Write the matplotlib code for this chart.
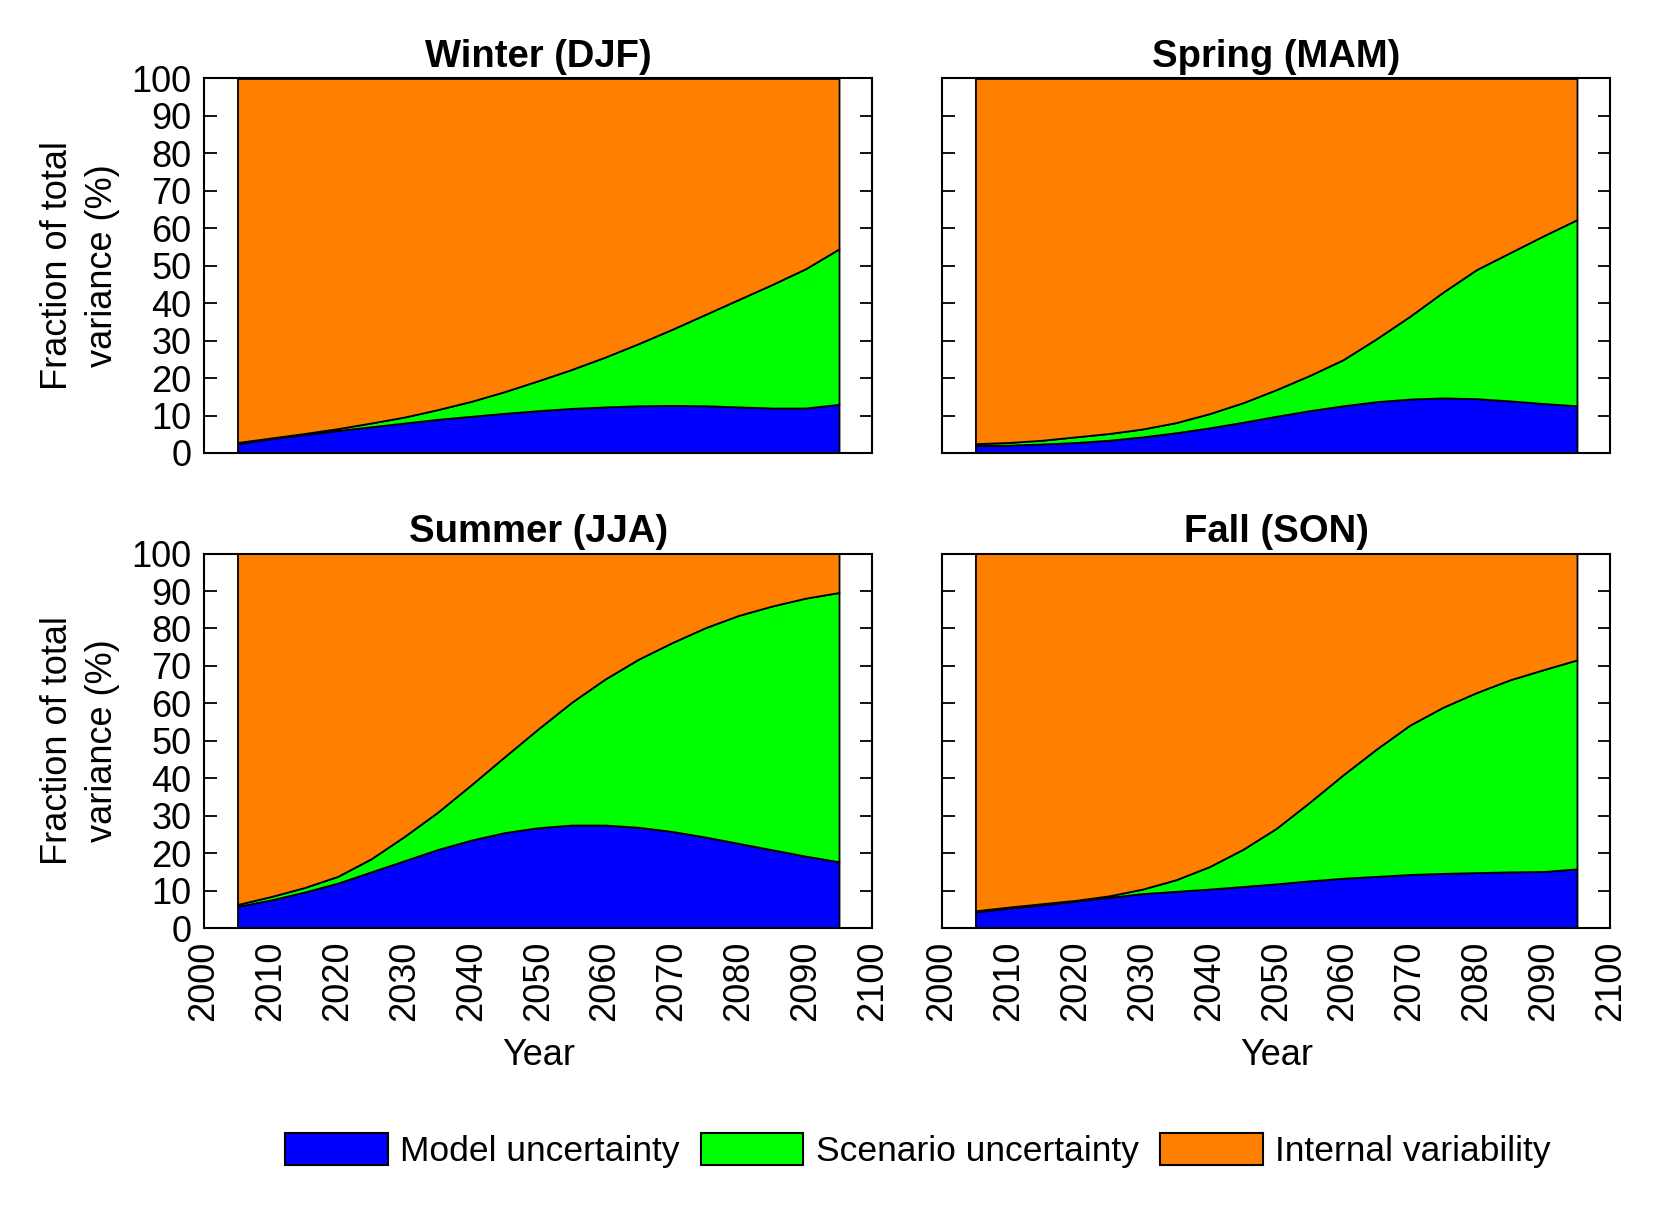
import matplotlib
matplotlib.use("Agg")
import matplotlib.pyplot as plt
from matplotlib.patches import Patch

plt.rcParams["font.family"] = ["Liberation Sans", "DejaVu Sans"]

# years sampled every 5 years, 2005-2095
years = [2005, 2010, 2015, 2020, 2025, 2030, 2035, 2040, 2045, 2050,
         2055, 2060, 2065, 2070, 2075, 2080, 2085, 2090, 2095]

seasons = ["Winter (DJF)", "Spring (MAM)", "Summer (JJA)", "Fall (SON)"]

# top of the blue band (model uncertainty), %
model_djf = [2.5, 3.8, 4.9, 6.0, 7.0, 8.0, 9.0, 9.8, 10.6, 11.3,
             11.9, 12.3, 12.6, 12.7, 12.6, 12.3, 12.0, 12.0, 13.0]
model_mam = [2.0, 2.1, 2.4, 2.8, 3.4, 4.3, 5.4, 6.7, 8.2, 9.8,
             11.3, 12.6, 13.7, 14.4, 14.7, 14.5, 13.9, 13.2, 12.6]
model_jja = [5.8, 7.5, 9.6, 12.0, 15.0, 18.0, 21.0, 23.5, 25.5, 26.8,
             27.5, 27.5, 26.9, 25.8, 24.3, 22.6, 20.9, 19.2, 17.7]
model_son = [4.3, 5.3, 6.2, 7.2, 8.2, 9.2, 9.8, 10.4, 11.1, 11.8,
             12.6, 13.3, 13.8, 14.3, 14.6, 14.8, 15.0, 15.1, 15.8]

# top of the green band (model + scenario uncertainty), %
scen_djf = [2.8, 4.0, 5.2, 6.5, 8.0, 9.6, 11.6, 13.8, 16.4, 19.3,
            22.3, 25.6, 29.2, 33.0, 37.0, 41.0, 45.0, 49.2, 54.5]
scen_mam = [2.5, 2.8, 3.4, 4.3, 5.2, 6.4, 8.1, 10.5, 13.4, 16.9,
            20.7, 24.9, 30.5, 36.5, 43.0, 49.0, 53.5, 58.0, 62.3]
scen_jja = [6.3, 8.4, 10.8, 13.8, 18.5, 24.5, 31.0, 38.3, 45.8, 53.2,
            60.3, 66.5, 71.8, 76.2, 80.2, 83.5, 86.0, 88.1, 89.6]
scen_son = [4.6, 5.6, 6.5, 7.4, 8.6, 10.4, 12.9, 16.4, 21.0, 26.6,
            33.6, 40.9, 47.8, 54.2, 59.0, 62.9, 66.3, 69.0, 71.6]

model_tops = [model_djf, model_mam, model_jja, model_son]
scen_tops = [scen_djf, scen_mam, scen_jja, scen_son]

labels = ["Model uncertainty", "Scenario uncertainty", "Internal variability"]
colors = ["#0000ff", "#00ff00", "#ff8000"]

fig, axes = plt.subplots(2, 2, figsize=(16.81, 12.15), dpi=100)
axes = axes.ravel()

lefts = [0.1214, 0.5604, 0.1214, 0.5604]
bottoms = [0.6272, 0.6272, 0.2362, 0.2362]

for i, ax in enumerate(axes):
    ax.set_position([lefts[i], bottoms[i], 0.3976, 0.3082])
    m = model_tops[i]
    s = scen_tops[i]
    ax.fill_between(years, 0, m, facecolor=colors[0], edgecolor="black", linewidth=1.3)
    ax.fill_between(years, m, s, facecolor=colors[1], edgecolor="black", linewidth=1.3)
    ax.fill_between(years, s, 100, facecolor=colors[2], edgecolor="black", linewidth=1.3)

    ax.set_xlim(2000, 2100)
    ax.set_ylim(0, 100)
    ax.set_xticks(range(2000, 2101, 10))
    ax.set_yticks(range(0, 101, 10))
    ax.tick_params(axis="y", direction="in", length=9, width=1.3, right=True,
                   labelsize=26, pad=9)
    ax.tick_params(axis="x", length=0, labelsize=26, pad=9, labelrotation=90)
    for sp in ax.spines.values():
        sp.set_linewidth(1.5)
    ax.set_title(seasons[i], fontsize=27.5, fontweight="bold", pad=8)

    if i % 2 == 0:
        ax.set_ylabel("Fraction of total\nvariance (%)", fontsize=26,
                      linespacing=1.4, labelpad=8)
    else:
        ax.tick_params(axis="y", labelleft=False)
    if i < 2:
        ax.tick_params(axis="x", labelbottom=False)
    else:
        ax.set_xlabel("Year", fontsize=26, labelpad=12)

handles = [Patch(facecolor=c, edgecolor="black", linewidth=1.5) for c in colors]
fig.legend(handles, labels, loc="center", bbox_to_anchor=(0.546, 0.053), ncol=3,
           frameon=False, fontsize=25.5, handlelength=2.9, handleheight=1.0,
           handletextpad=0.35, columnspacing=0.6)

fig.savefig("out.png", dpi=100)
